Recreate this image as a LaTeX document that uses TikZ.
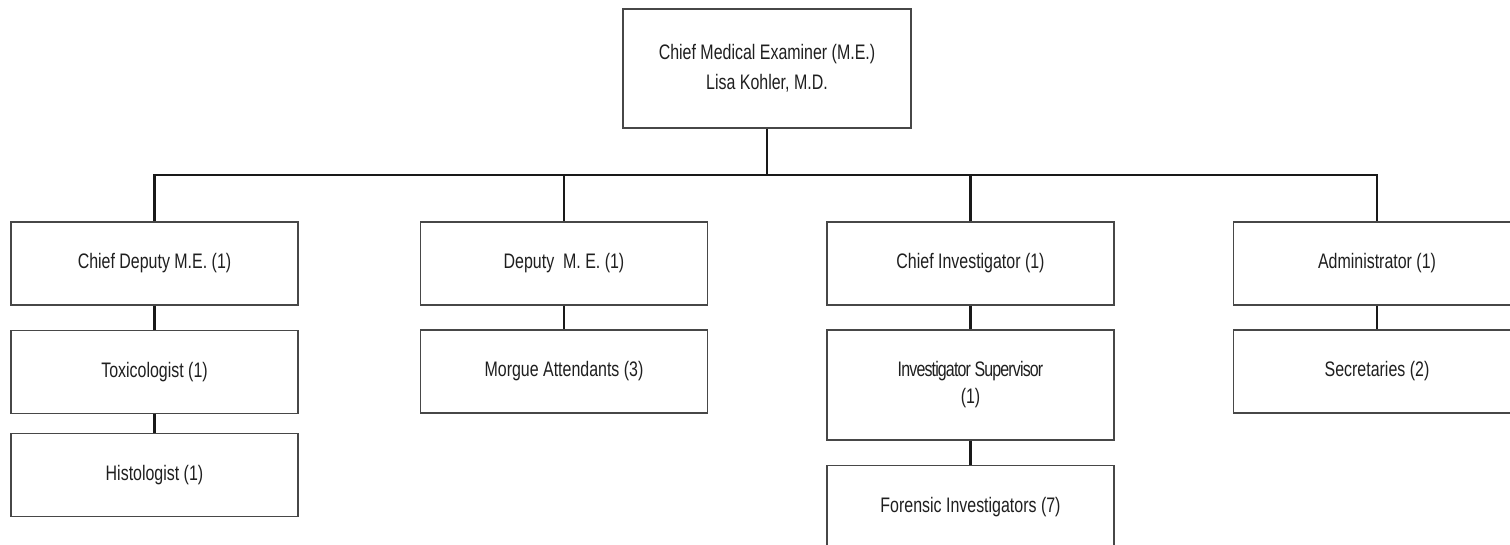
\documentclass[tikz,border=0pt]{standalone}
\usepackage{fontspec}
\setmainfont{Liberation Sans}[FakeStretch=0.76]
\begin{document}
\begin{tikzpicture}[x=1pt,y=-1pt,
  unit/.style={draw=black!72,line width=1.3pt,fill=white,
    minimum width=287pt,minimum height=83pt,inner sep=0pt,
    align=center,text=black!88,font=\fontsize{21}{30}\selectfont},
  link/.style={draw=black!90,line width=2.2pt}]
\useasboundingbox (0,0) rectangle (1510,545);
\clip (0,0) rectangle (1510,545);

% head of office
\node[unit,minimum width=288pt,minimum height=119pt] (cme) at (767,68.5)
  {Chief Medical Examiner (M.E.)\\Lisa Kohler, M.D.};

% first tier
\node[unit] (cdme) at (154.5,263.5) {Chief Deputy M.E. (1)};
\node[unit] (dme)  at (564,263.5)   {Deputy\ \ M. E. (1)};
\node[unit] (ci)   at (970.5,263.5) {Chief Investigator (1)};
\node[unit] (adm)  at (1377,263.5)  {Administrator (1)};

% second tier
\node[unit] (tox) at (154.5,372) {Toxicologist (1)};
\node[unit] (mor) at (564,371.5) {Morgue Attendants (3)};
\node[unit,minimum height=110pt,font=\fontsize{21}{27}\selectfont] (isup) at (970.5,385)
  {{\addfontfeature{LetterSpace=-4}Investigator Supervisor}\\(1)};
\node[unit] (sec) at (1377,371.5) {Secretaries (2)};

% third tier
\node[unit] (his) at (154.5,475) {Histologist (1)};
\node[unit] (fin) at (970.5,507) {Forensic Investigators (7)};

% reporting lines
\coordinate (bar) at (767,175);
\draw[link] (cme.south) -- (bar);
\draw[link] (cdme.north) |- (bar) -| (adm.north);
\draw[link] (dme.north) -- (dme.north |- bar);
\draw[link] (ci.north) -- (ci.north |- bar);
\draw[link] (cdme.south) -- (tox.north);
\draw[link] (tox.south) -- (his.north);
\draw[link] (dme.south) -- (mor.north);
\draw[link] (ci.south) -- (isup.north);
\draw[link] (isup.south) -- (fin.north);
\draw[link] (adm.south) -- (sec.north);
\end{tikzpicture}
\end{document}
